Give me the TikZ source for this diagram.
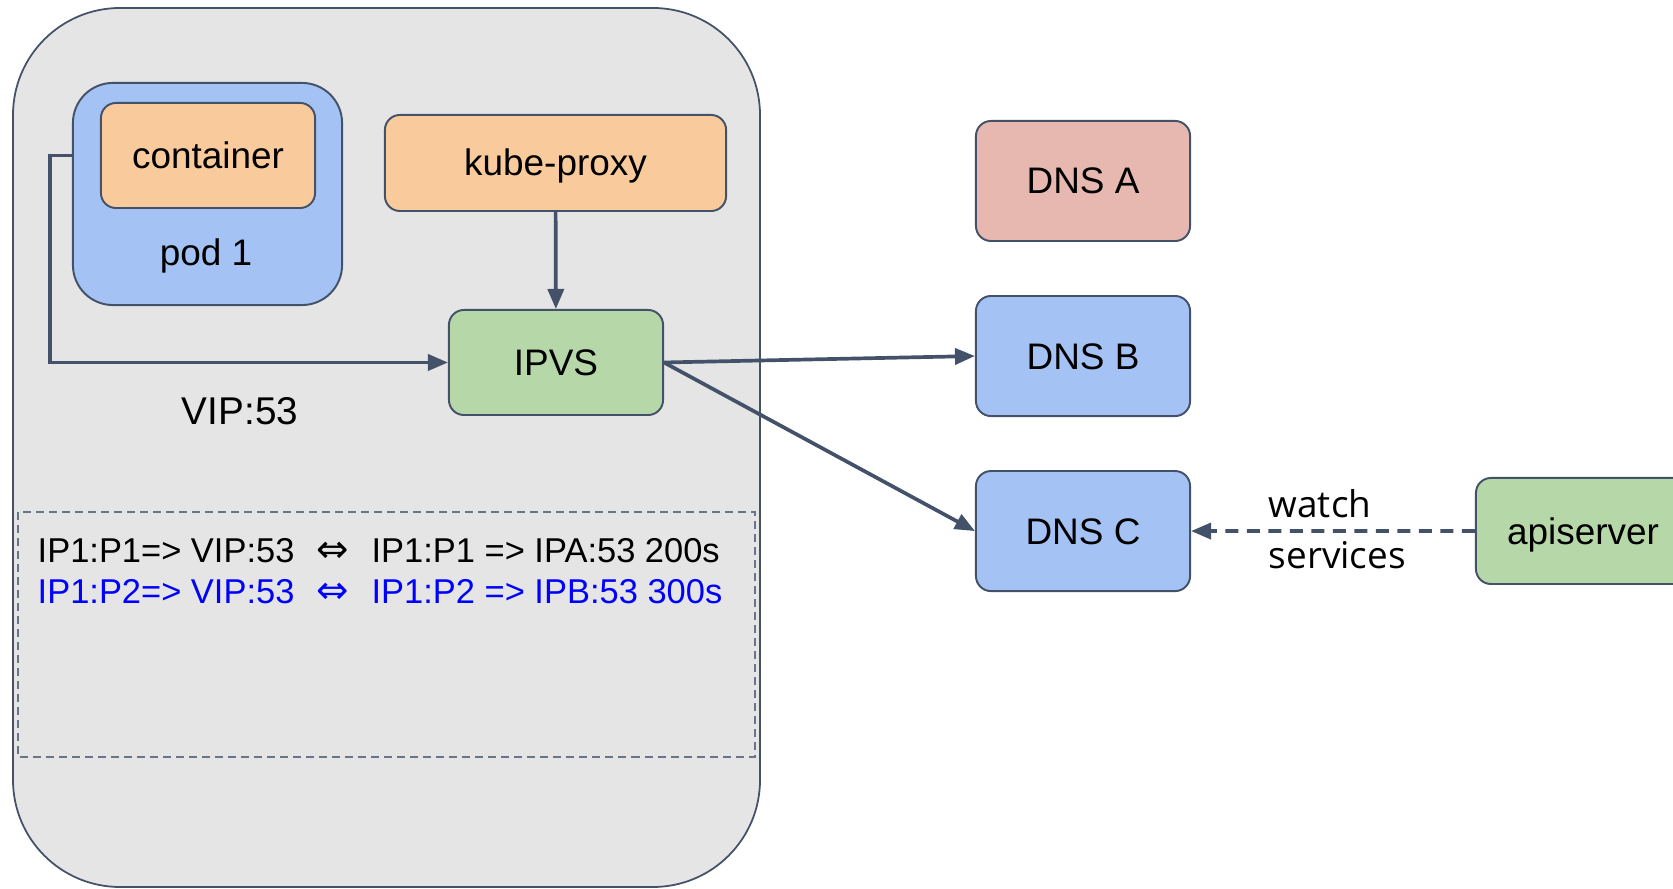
\documentclass[tikz,border=0pt]{standalone}
\usepackage{fontspec}
\setmainfont{Liberation Sans}
\newfontfamily\symfont{DejaVu Sans}
\newfontfamily\notefont{Open Sans}
\usetikzlibrary{arrows.meta,positioning}

\definecolor{edgegray}{RGB}{67,82,104}
\definecolor{nodegray}{RGB}{229,229,229}
\definecolor{podblue}{RGB}{164,194,244}
\definecolor{procorange}{RGB}{249,203,156}
\definecolor{ipvsgreen}{RGB}{182,215,168}
\definecolor{dnsred}{RGB}{230,184,175}
\definecolor{ruleblue}{RGB}{0,0,255}

\newcommand{\eqarrow}{\hspace{0.65em}{\symfont\fontsize{11}{11}\selectfont ⇔}\hspace{0.65em}}

\tikzset{
  box/.style={draw=edgegray, line width=0.55pt, rounded corners=1.5mm,
    minimum width=2.14cm, minimum height=1.05cm, inner sep=0pt,
    text height=1.4ex, text depth=0pt,
    font=\fontsize{10.5}{12}\selectfont},
  conn/.style={draw=edgegray, line width=1.05pt,
    -{Triangle[length=2mm,width=1.6mm]}},
  ruletext/.style={anchor=west, inner sep=0pt, font=\fontsize{9.8}{11}\selectfont},
}

\begin{document}
\begin{tikzpicture}[x=0.01cm,y=-0.01cm]
  \useasboundingbox (0,0) rectangle (1673,889);
  \clip (0,0) rectangle (1673,889);
  % the node
  \draw[draw=edgegray, fill=nodegray, line width=0.5pt, rounded corners=1.07cm]
    (13,8) rectangle (760,887);
  \node[box, fill=podblue, minimum width=2.69cm, minimum height=2.22cm,
    rounded corners=4mm] (pod) at (207.5,194) {};
  \node[box, fill=procorange] (cont) at (208,155.5) {container};
  \node[font=\fontsize{10.5}{12}\selectfont] (podlbl) at (206,256) {pod 1};
  \node[box, fill=procorange, minimum width=3.41cm, minimum height=0.96cm]
    (kube) at (555.5,163) {kube-proxy};
  \node[box, fill=ipvsgreen] (ipvs) at (556,362.5) {IPVS};
  \node[font=\fontsize{11}{13}\selectfont] (vip) at (240,411) {VIP:53};
  % conntrack table
  \draw[draw=edgegray!80, line width=0.45pt, dash pattern=on 0.8mm off 0.5mm]
    (18,512) rectangle (755,757);
  \node[ruletext] (rule1) at (37,551)
    {IP1:P1=> VIP:53\eqarrow IP1:P1 => IPA:53 200s};
  \node[ruletext, text=ruleblue] (rule2) at (37,592)
    {IP1:P2=> VIP:53\eqarrow IP1:P2 => IPB:53 300s};
  % dns pods
  \node[box, fill=dnsred, minimum height=1.2cm] (dnsa) at (1083,181) {DNS A};
  \node[box, fill=podblue, minimum height=1.2cm, below=0.53cm of dnsa] (dnsb) {DNS B};
  \node[box, fill=podblue, minimum height=1.2cm, below=0.53cm of dnsb] (dnsc) {DNS C};
  \node[box, fill=ipvsgreen, minimum height=1.06cm] (api) at (1583,531) {apiserver};
  \node[anchor=west, align=left, inner sep=0pt,
    font=\notefont\fontsize{10.5}{14.5}\selectfont] (watch) at (1268,529) {watch\\services};

  \draw[conn] (pod.west |- cont.west) -- ++(-22,0) |- (ipvs.west);
  \draw[conn] (kube) -- (ipvs);
  \draw[conn] (ipvs.east) -- (dnsb.west);
  \draw[conn] (ipvs.east) -- (dnsc.west);
  \draw[conn, dash pattern=on 1.3mm off 0.85mm] (api) -- (dnsc);
\end{tikzpicture}
\end{document}
